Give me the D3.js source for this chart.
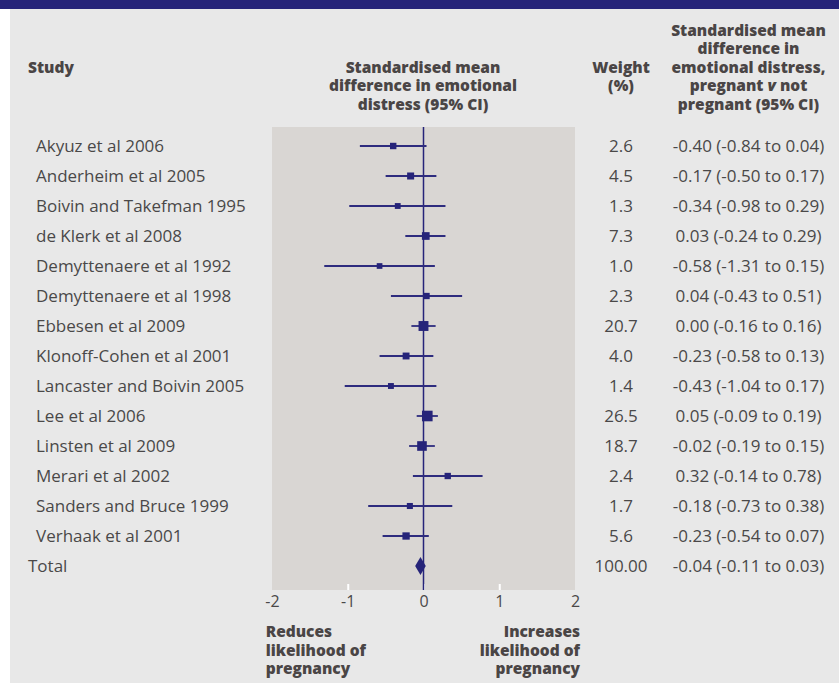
<!DOCTYPE html>
<html>
<head>
<meta charset="utf-8">
<title>Forest plot - emotional distress</title>
<script src="https://d3js.org/d3.v7.min.js"></script>
<style>
  body { margin: 0; background: #fff; }
  text { font-family: "Open Sans", sans-serif; }
</style>
</head>
<body>
<svg width="839" height="684"></svg>
<script>

var studies = [
  'Akyuz et al 2006', 'Anderheim et al 2005', 'Boivin and Takefman 1995',
  'de Klerk et al 2008', 'Demyttenaere et al 1992', 'Demyttenaere et al 1998',
  'Ebbesen et al 2009', 'Klonoff-Cohen et al 2001', 'Lancaster and Boivin 2005',
  'Lee et al 2006', 'Linsten et al 2009', 'Merari et al 2002',
  'Sanders and Bruce 1999', 'Verhaak et al 2001'
];
var weights = [2.6, 4.5, 1.3, 7.3, 1.0, 2.3, 20.7, 4.0, 1.4, 26.5, 18.7, 2.4, 1.7, 5.6];
var smd   = [-0.40, -0.17, -0.34, 0.03, -0.58, 0.04, 0.00, -0.23, -0.43, 0.05, -0.02, 0.32, -0.18, -0.23];
var lower = [-0.84, -0.50, -0.98, -0.24, -1.31, -0.43, -0.16, -0.58, -1.04, -0.09, -0.19, -0.14, -0.73, -0.54];
var upper = [0.04, 0.17, 0.29, 0.29, 0.15, 0.51, 0.16, 0.13, 0.17, 0.19, 0.15, 0.78, 0.38, 0.07];

var totalLabel = 'Total';
var totalWeightLabel = '100.00';
var totalSmd = -0.04, totalLower = -0.11, totalUpper = 0.03;

var xTicks = [-2, -1, 0, 1, 2];

var navy = '#262479';
var textCol = '#4a4848';
var headCol = '#4a4545';

var locale = d3.formatLocale({decimal: '.', thousands: ',', grouping: [3], currency: ['', ''], minus: '-'});
var f2 = locale.format('.2f');
var f1 = locale.format('.1f');
var f0 = locale.format('d');

var svg = d3.select('svg');

// background
svg.append('rect').attr('x', 10).attr('y', 0).attr('width', 829).attr('height', 683).attr('fill', '#e8e8e8');
svg.append('rect').attr('x', 0).attr('y', 0).attr('width', 839).attr('height', 9).attr('fill', navy);

var x = d3.scaleLinear().domain([-2, 2]).range([272, 575]);
var y = d3.scaleLinear().domain([0, studies.length]).range([146, 146 + 30 * studies.length]);
var size = d3.scaleSqrt().domain([0, 30]).range([4.5, 11]);

var panelTop = 127, panelBottom = 590;

svg.append('rect')
  .attr('x', x(-2)).attr('y', panelTop)
  .attr('width', x(2) - x(-2)).attr('height', panelBottom - panelTop)
  .attr('fill', '#d9d6d3');

// axis, white ticks inside the panel
var axis = svg.append('g')
  .attr('transform', 'translate(0,' + panelBottom + ')')
  .call(d3.axisBottom(x).tickValues(xTicks).tickFormat(f0).tickSizeInner(-6).tickSizeOuter(0).tickPadding(6));
axis.select('.domain').remove();
axis.selectAll('.tick line')
  .attr('stroke', '#fff').attr('stroke-width', 2)
  .attr('opacity', function(d) { return Math.abs(d) === 2 ? 0 : 1; });
axis.selectAll('.tick text')
  .attr('fill', textCol)
  .style('font-size', '16px')
  .style('font-family', '"Open Sans", sans-serif');

// zero line
svg.append('line')
  .attr('x1', x(0)).attr('x2', x(0))
  .attr('y1', panelTop).attr('y2', panelBottom)
  .attr('stroke', navy).attr('stroke-width', 1.5);

var rows = studies.map(function(s, i) {
  return {study: s, weight: weights[i], smd: smd[i], lo: lower[i], hi: upper[i], i: i};
});

// confidence intervals
svg.append('g').selectAll('line')
  .data(rows)
  .enter()
  .append('line')
  .attr('x1', function(d) { return x(d.lo); })
  .attr('x2', function(d) { return x(d.hi); })
  .attr('y1', function(d) { return y(d.i); })
  .attr('y2', function(d) { return y(d.i); })
  .attr('stroke', '#2e2c7e')
  .attr('stroke-width', 1.8);

// point estimates
svg.append('g').selectAll('rect')
  .data(rows)
  .enter()
  .append('rect')
  .attr('x', function(d) { return x(d.smd) - size(d.weight) / 2; })
  .attr('y', function(d) { return y(d.i) - size(d.weight) / 2; })
  .attr('width', function(d) { return size(d.weight); })
  .attr('height', function(d) { return size(d.weight); })
  .attr('fill', navy);

// total diamond
var ty = y(studies.length);
svg.append('path')
  .attr('d', 'M' + x(totalLower) + ',' + ty +
             'L' + x(totalSmd) + ',' + (ty - 9) +
             'L' + x(totalUpper) + ',' + ty +
             'L' + x(totalSmd) + ',' + (ty + 9) + 'Z')
  .attr('fill', navy);

// row texts
var body = svg.append('g').style('font-size', '17px').attr('fill', textCol);

body.selectAll('.study')
  .data(rows)
  .enter()
  .append('text')
  .attr('x', 36)
  .attr('y', function(d) { return y(d.i); })
  .attr('dy', '0.37em')
  .text(function(d) { return d.study; });

body.selectAll('.weight')
  .data(rows)
  .enter()
  .append('text')
  .attr('x', 621)
  .attr('y', function(d) { return y(d.i); })
  .attr('dy', '0.37em')
  .attr('text-anchor', 'middle')
  .text(function(d) { return f1(d.weight); });

body.selectAll('.ci')
  .data(rows)
  .enter()
  .append('text')
  .attr('x', 748.5)
  .attr('y', function(d) { return y(d.i); })
  .attr('dy', '0.37em')
  .attr('text-anchor', 'middle')
  .text(function(d) { return f2(d.smd) + ' (' + f2(d.lo) + ' to ' + f2(d.hi) + ')'; });

body.append('text').attr('x', 28).attr('y', ty).attr('dy', '0.37em').text(totalLabel);
body.append('text').attr('x', 621).attr('y', ty).attr('dy', '0.37em')
  .attr('text-anchor', 'middle').text(totalWeightLabel);
body.append('text').attr('x', 748.5).attr('y', ty).attr('dy', '0.37em')
  .attr('text-anchor', 'middle')
  .text(f2(totalSmd) + ' (' + f2(totalLower) + ' to ' + f2(totalUpper) + ')');

// headers
var head = svg.append('g')
  .style('font-size', '15.5px')
  .style('font-weight', 800)
  .attr('fill', headCol);

function block(lines, xPos, y0, anchor) {
  var t = head.append('text').attr('text-anchor', anchor);
  lines.forEach(function(l, k) {
    var ts = t.append('tspan').attr('x', xPos).attr('y', y0 + k * 18.6);
    if (Array.isArray(l)) {
      l.forEach(function(part) {
        ts.append('tspan').style('font-style', part.italic ? 'italic' : null).text(part.t);
      });
    } else {
      ts.text(l);
    }
  });
}

block(['Study'], 28, 72.8, 'start');
block(['Standardised mean', 'difference in emotional', 'distress (95% CI)'], 423, 72.8, 'middle');
block(['Weight', '(%)'], 621, 72.8, 'middle');
block(['Standardised mean', 'difference in', 'emotional distress,',
       [{t: 'pregnant '}, {t: 'v', italic: true}, {t: ' not'}],
       'pregnant (95% CI)'], 748.5, 35.6, 'middle');
block(['Reduces', 'likelihood of', 'pregnancy'], 265.7, 637, 'start');
block(['Increases', 'likelihood of', 'pregnancy'], 580, 637, 'end');

</script>
</body>
</html>
